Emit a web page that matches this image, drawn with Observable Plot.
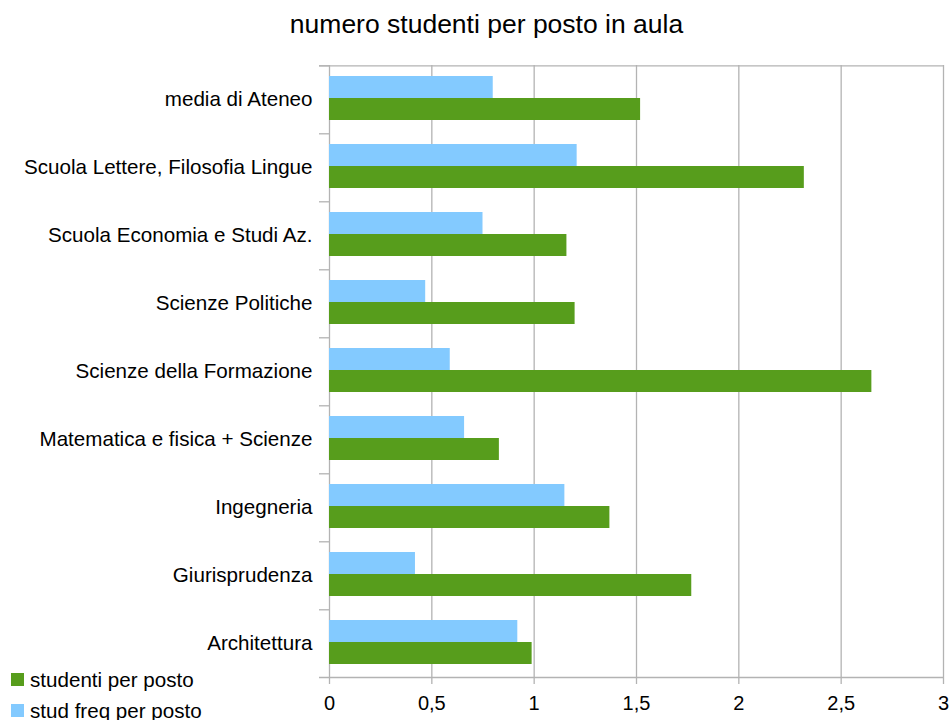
<!DOCTYPE html>
<html><head><meta charset="utf-8">
<script src="https://cdn.jsdelivr.net/npm/d3@7"></script>
<script src="https://cdn.jsdelivr.net/npm/@observablehq/plot@0.6"></script>
<style>
body{margin:0;background:#fff;font-family:"Liberation Sans",Arial,sans-serif;}
#wrap{position:relative;width:949px;height:720px;overflow:hidden;}
#wrap svg{position:absolute;left:0;top:0;}
#title{position:absolute;left:0;top:8px;width:973px;text-align:center;font-size:26.5px;line-height:32px;color:#000;z-index:2;}
#legend{position:absolute;left:11px;top:664px;font-size:20.6px;color:#000;z-index:2;}
.row{display:flex;align-items:center;height:31px;white-space:nowrap;}
.sw{width:13px;height:13px;margin-right:6px;flex:none;}
</style></head><body>
<div id="wrap"><div id="title">numero studenti per posto in aula</div><div id="legend"></div></div>
<script>
const categories = [
  "media di Ateneo",
  "Scuola Lettere, Filosofia Lingue",
  "Scuola Economia e Studi Az.",
  "Scienze Politiche",
  "Scienze della Formazione",
  "Matematica e fisica + Scienze",
  "Ingegneria",
  "Giurisprudenza",
  "Architettura"
];
const studentiPerPosto = [1.52, 2.32, 1.16, 1.20, 2.65, 0.83, 1.37, 1.77, 0.99];
const studFreqPerPosto = [0.80, 1.21, 0.75, 0.47, 0.59, 0.66, 1.15, 0.42, 0.92];
const seriesNames = ["stud freq per posto", "studenti per posto"];
const seriesColors = ["#83caff", "#579d1c"];
const xTicks = [0, 0.5, 1, 1.5, 2, 2.5, 3];
const legendOrder = ["studenti per posto", "stud freq per posto"];

const rows = categories.flatMap((c, i) => [
  {category: c, series: seriesNames[0], value: studFreqPerPosto[i]},
  {category: c, series: seriesNames[1], value: studentiPerPosto[i]}
]);

const W = 949, H = 720, mT = 64, mB = 42, mL = 329, mR = 6;
const padOuter = 0.516, alignY = 0.45;
const facetH = (H - mT - mB) / categories.length;
const inner = d3.scaleBand(seriesNames, [0, facetH]).paddingInner(0).paddingOuter(padOuter).align(alignY);
const topOff = inner(seriesNames[0]) + inner.bandwidth() / 2;
const botOff = facetH - inner(seriesNames[1]) - inner.bandwidth() / 2;
const grey = "#b3b3b3";
const fmt = d => String(d).replace(".", ",");

const chart = Plot.plot({
  width: W, height: H, marginTop: mT, marginBottom: mB, marginLeft: mL, marginRight: mR,
  style: {fontFamily: "Liberation Sans, Arial, sans-serif", fontSize: "20.6px", color: "#000", background: "transparent"},
  x: {domain: [0, 3], axis: null},
  y: {domain: seriesNames, paddingInner: 0, paddingOuter: padOuter, align: alignY, axis: null},
  fy: {domain: categories, padding: 0, axis: "left", tickSize: 0, tickPadding: 17, label: null},
  color: {domain: seriesNames, range: seriesColors},
  marks: [
    Plot.gridX(xTicks, {stroke: grey, strokeOpacity: 1, strokeWidth: 1.3}),
    Plot.barX(rows, {fy: "category", y: "series", x: "value", fill: "series"}),
    Plot.ruleY(categories, {fy: d => d, y: () => seriesNames[0], x1: 0, x2: 0, insetLeft: -10, dy: -topOff, stroke: grey, strokeWidth: 1.3}),
    Plot.ruleY([categories[0]], {fy: d => d, y: () => seriesNames[0], x1: 0, x2: 3, insetLeft: -10, dy: -topOff, stroke: grey, strokeWidth: 1.3}),
    Plot.ruleY([categories[categories.length - 1]], {fy: d => d, y: () => seriesNames[1], x1: 0, x2: 3, insetLeft: -10, dy: botOff, stroke: grey, strokeWidth: 1.3}),
    Plot.axisX(xTicks, {anchor: "bottom", tickSize: 7, tickPadding: 11, stroke: grey, strokeWidth: 1.3, fill: "#000", fontSize: 20, tickFormat: fmt, label: null})
  ]
});
document.getElementById("wrap").appendChild(chart);

const legend = document.getElementById("legend");
for (const name of legendOrder) {
  const row = document.createElement("div");
  row.className = "row";
  const sw = document.createElement("span");
  sw.className = "sw";
  sw.style.background = seriesColors[seriesNames.indexOf(name)];
  const t = document.createElement("span");
  t.textContent = name;
  row.appendChild(sw); row.appendChild(t);
  legend.appendChild(row);
}
</script>
</body></html>
